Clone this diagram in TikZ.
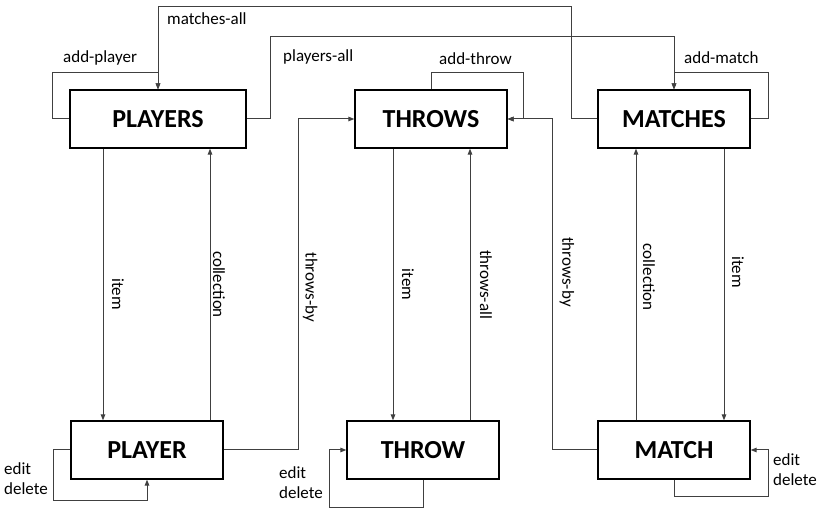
\documentclass[tikz,border=0pt]{standalone}
\usepackage{fontspec}
\setmainfont{Carlito}
\usetikzlibrary{arrows.meta}

\tikzset{
  resource/.style={draw,line width=1.2pt,minimum width=152pt,minimum height=58pt,
    inner sep=0pt,font=\fontsize{26}{30}\selectfont\bfseries},
  conn/.style={draw=black!75,line width=1pt},
  lbl/.style={font=\fontsize{17}{20}\selectfont,inner sep=0pt},
  vlbl/.style={lbl,rotate=-90,anchor=south,text depth=0pt,outer sep=8pt}
}

\begin{document}
\begin{tikzpicture}[x=1pt,y=-1pt,>={Triangle[length=6pt,width=4.5pt]}]
        \useasboundingbox (0,0) rectangle (820,510);

        \node[resource,minimum width=176pt] (PLAYERS) at (158,119) {PLAYERS};
        \node[resource] (THROWS)  [right of=PLAYERS,node distance=273pt] {THROWS};
        \node[resource] (MATCHES) [right of=THROWS,node distance=243pt]  {MATCHES};
        \node[resource] (PLAYER)  [below of=PLAYERS,node distance=331pt,xshift=-11pt] {PLAYER};
        \node[resource] (THROW)   [below of=THROWS,node distance=331pt,xshift=-8pt]   {THROW};
        \node[resource] (MATCH)   [below of=MATCHES,node distance=331pt] {MATCH};

        % top loops
        \draw[conn,->] (PLAYERS.west) -- ++(-17,0) |- ([yshift=17pt]PLAYERS.north) -- (PLAYERS.north);
        \draw[conn,->] (MATCHES.west) -- ++(-26,0) |- ([yshift=83pt]PLAYERS.north) -- (PLAYERS.north);
        \draw[conn,->] (PLAYERS.east) -- ++(24,0) |- ([yshift=53pt]MATCHES.north) -- (MATCHES.north);
        \draw[conn,->] (MATCHES.east) -- ++(18,0) |- ([yshift=17pt]MATCHES.north) -- (MATCHES.north);
        \draw[conn,->] (THROWS.north) -- ++(0,-17) -| ([xshift=16pt]THROWS.east) -- (THROWS.east);

        \node[lbl,anchor=base west] (lAddPlayer)  at (63,63)  {add-player};
        \node[lbl,anchor=base west] (lMatchesAll) at (167,25) {matches-all};
        \node[lbl,anchor=base west] (lPlayersAll) at (283,62) {players-all};
        \node[lbl,anchor=base west] (lAddThrow)   at (439,65) {add-throw};
        \node[lbl,anchor=base west] (lAddMatch)   at (684,64) {add-match};

        % verticals
        \draw[conn,->] ([xshift=-55pt]PLAYERS.south) -- node[vlbl,pos=0.535,outer sep=9pt] (lItemP) {item} ([xshift=-44pt]PLAYER.north);
        \draw[conn,->] ([xshift=63pt]PLAYER.north) -- node[vlbl,pos=0.5,outer sep=3pt] (lCollP) {collection} ([xshift=52pt]PLAYERS.south);
        \draw[conn,->] ([xshift=-38pt]THROWS.south) -- node[vlbl,pos=0.5,outer sep=9pt] (lItemT) {item} ([xshift=-30pt]THROW.north);
        \draw[conn,->] ([xshift=47pt]THROW.north) -- node[vlbl,pos=0.5,outer sep=10pt] (lThrowsAll) {throws-all} ([xshift=39pt]THROWS.south);
        \draw[conn,->] ([xshift=-38pt]MATCH.north) -- node[vlbl,pos=0.527,outer sep=7pt] (lCollM) {collection} ([xshift=-38pt]MATCHES.south);
        \draw[conn,->] ([xshift=50pt]MATCHES.south) -- node[vlbl,pos=0.454] (lItemM) {item} ([xshift=50pt]MATCH.north);

        % throws-by
        \draw[conn,->] (PLAYER.east) -- ++(75,0) |- node[vlbl,pos=0.246,outer sep=7pt] (lThrowsByP) {throws-by} (THROWS.west);
        \draw[conn,->] (MATCH.west) -- ++(-45,0) |- node[vlbl,pos=0.269,outer sep=10pt] (lThrowsByM) {throws-by} (THROWS.east);

        % bottom loops
        \draw[conn,->] (PLAYER.west) -- ++(-17,0) |- ([yshift=-21pt]PLAYER.south) -- (PLAYER.south);
        \draw[conn,->] (THROW.south) -- ++(0,28) -| ([xshift=-17pt]THROW.west) -- (THROW.west);
        \draw[conn,->] (MATCH.south) -- ++(0,17) -| ([xshift=18pt]MATCH.east) -- (MATCH.east);

        \node[lbl,anchor=north west,align=left] (lEditP) at (4,462)   {edit\\delete};
        \node[lbl,anchor=north west,align=left] (lEditT) at (279,466) {edit\\delete};
        \node[lbl,anchor=north west,align=left] (lEditM) at (773,453) {edit\\delete};
\end{tikzpicture}
\end{document}
